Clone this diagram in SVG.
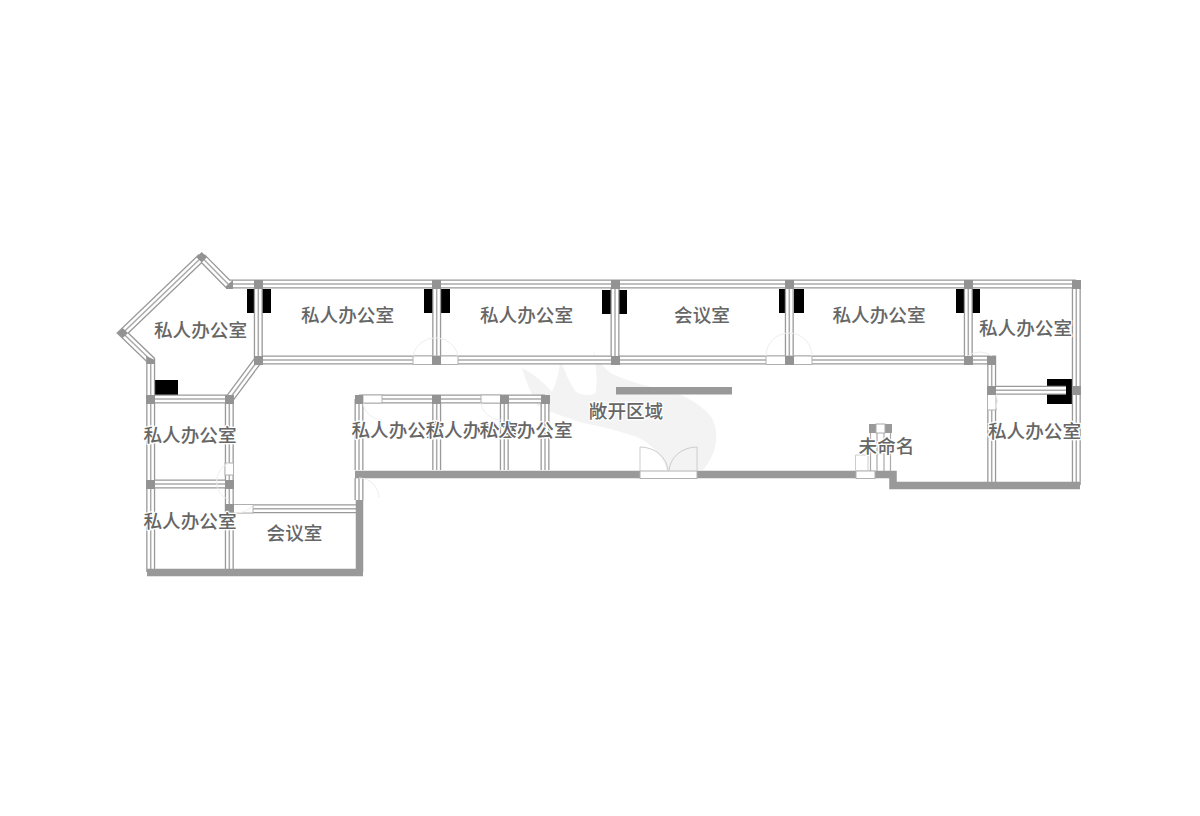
<svg xmlns="http://www.w3.org/2000/svg" width="1200" height="816" viewBox="0 0 1200 816">
<style>
.w1{fill:none;stroke:#999;stroke-width:9}
.w2{fill:none;stroke:#fff;stroke-width:6.400}
.w3{fill:none;stroke:#aaa;stroke-width:1.500}
.s{fill:none;stroke:#999;stroke-width:7.500}
.j{fill:#939393}
.b{fill:#000}
.d{fill:none;stroke:#eee;stroke-width:1}
.m{fill:none;stroke:#ccc;stroke-width:1}
.g{fill:#fff;stroke:#b0b0b0;stroke-width:1}
text{font-family:"Liberation Sans","Noto Sans CJK SC",sans-serif;font-size:18.600px;font-weight:500;fill:#666;text-anchor:middle;stroke:#fff;stroke-width:2.500px;paint-order:stroke;stroke-linejoin:round}
</style>
<defs>
<path id="walls" d="M229 284H1076M201.700 257.300L229 285M201.700 257.300L122.700 333L150.700 360V572M150.300 399H229.300V572M258.300 284V360L229.300 399M258.300 360H991.700V485M436.700 284V360M615 284V360M789.300 284V360M968.300 284V360M1076.300 284V485M991.700 390.300H1066M150.300 484H229.300M229.300 508.700H359M359 399V470M359 399H545M436.700 399V470M504.300 399V470M545 399V470M359 478V500"/>
</defs>
<rect width="1200" height="816" fill="#fff"/>
<path id="watermark" fill="#f3f3f3" d="M522 368Q538 376 552 392Q560 375 560 357Q566 378 576 392Q586 398 596 393Q598 370 593 350Q600 366 612 374Q640 386 670 391Q698 400 712 418Q724 444 703 470H667Q660 448 637 437Q610 428 583 423Q548 412 537 405Q528 388 522 368Z"/>
<g id="blocks">
<rect class="b" x="247" y="289" width="9" height="24"/><rect class="b" x="262" y="289" width="9" height="24"/>
<rect class="b" x="424" y="289" width="9" height="24"/><rect class="b" x="441" y="289" width="9" height="24"/>
<rect class="b" x="602" y="290" width="9" height="24"/><rect class="b" x="619" y="290" width="8" height="24"/>
<rect class="b" x="779" y="289" width="7" height="24"/><rect class="b" x="794" y="289" width="10" height="24"/>
<rect class="b" x="956" y="289" width="8" height="24"/><rect class="b" x="972" y="289" width="8" height="24"/>
<rect class="b" x="155" y="380" width="23" height="15"/>
<rect class="b" x="1047" y="379" width="25" height="25"/>
</g>
<g id="connectors">
<use href="#walls" class="w1"/><use href="#walls" class="w2"/><use href="#walls" class="w3"/>
<path class="s" d="M147 572.500H363M359.500 500V572M355 474.500H640M697 474.500H893V485.500H1080"/>
<rect x="616" y="387" width="116" height="7.500" fill="#999"/>
</g>
<g id="openings">
<rect class="g" x="413" y="356" width="45" height="8.500"/>
<rect class="g" x="766" y="356" width="46" height="8.500"/>
<rect class="g" x="233" y="504.500" width="20" height="8.500"/>
<rect class="g" x="225" y="463" width="8.500" height="12"/>
<rect class="g" x="987.500" y="394" width="8.500" height="16"/>
<rect class="g" x="363" y="395" width="19" height="8"/>
<rect class="g" x="481" y="395" width="20" height="8"/>
<rect class="g" x="640" y="471" width="57" height="7.500"/>
<rect class="g" x="856" y="471" width="19" height="7.500"/>
<path class="d" d="M413 356A23 23 0 0 1 458 356M766 356A23 23 0 0 1 812 356M234 513A23 23 0 0 0 253 505M229 463A20 20 0 0 0 229 500M359 478A20 20 0 0 1 379 498M363 403A20 20 0 0 0 382 420M481 403A20 20 0 0 0 501 420M996 394A18 18 0 0 1 996 408M968 356A20 20 0 0 1 992 356"/>
<path class="m" d="M640 471V447A28 25 0 0 1 668 471M697 471V447A28 25 0 0 0 669 471M855.500 471V455H868V471"/>
</g>
<g id="joints">
<path class="j" d="M201.700 252L207 257.300L201.700 262.600L196.400 257.300ZM117.500 333L122.700 328L128 333L122.700 338ZM146 356L155 360V364H146.500ZM226 286L233 280V289H226ZM146 395H155V404H146ZM225 395H234V404H225ZM254 280H263V289H254ZM432 280H441V289H432ZM611 280H620V289H611ZM785 280H794V289H785ZM964 280H973V289H964ZM1072 280H1081V289H1072ZM254 356H263V365H254ZM432 356H441V365H432ZM611 356H620V365H611ZM785 356H794V365H785ZM964 356H973V365H964ZM987 356H996V365H987ZM987 386H996V395H987ZM1072 386H1081V395H1072ZM355 395H363V404H355ZM432 395H441V404H432ZM500 395H509V404H500ZM541 395H550V404H541ZM146 480H155V489H146ZM225 480H234V489H225ZM225 504H234V513H225Z"/>
</g>
<g id="core">
<rect x="869" y="424" width="23" height="9" fill="#999"/>
<rect x="876" y="424" width="9" height="9" fill="#fff" stroke="#aaa" stroke-width="1"/>
<path d="M870.500 433V471M877 433V471M884 433V471M890.500 433V471" fill="none" stroke="#aaa" stroke-width="1.200"/>
</g>
<g id="labels">
<text x="200.500" y="337">私人办公室</text>
<text x="347.500" y="322">私人办公室</text>
<text x="526.500" y="322">私人办公室</text>
<text x="702" y="322">会议室</text>
<text x="879" y="322">私人办公室</text>
<text x="1025.500" y="335">私人办公室</text>
<text x="190" y="442">私人办公室</text>
<text x="190" y="528">私人办公室</text>
<text x="294.500" y="540">会议室</text>
<text x="398" y="437">私人办公室</text>
<text x="472" y="437">私人办公室</text>
<text x="526" y="437">私人办公室</text>
<text x="626" y="418">敞开区域</text>
<text x="886.500" y="453">未命名</text>
<text x="1034.500" y="438">私人办公室</text>
</g>
</svg>
